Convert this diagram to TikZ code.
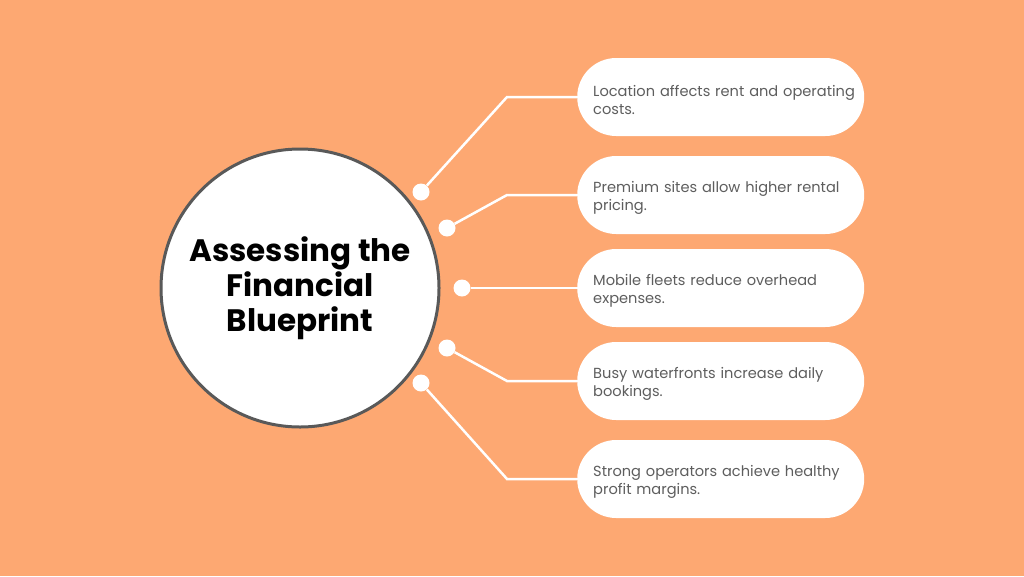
\documentclass[tikz,border=0pt]{standalone}
\usepackage{fontspec}
\setmainfont{Poppins}
\usetikzlibrary{positioning}
\definecolor{bgorange}{HTML}{FDA872}
\definecolor{textgray}{HTML}{5E5E5E}
\definecolor{rimgray}{HTML}{595959}
\newcommand{\pillfont}{\fontsize{14.6}{18.5}\selectfont\hyphenpenalty=10000\relax}
\tikzset{
     pill/.style={rounded corners=39pt,fill=white,minimum height=78pt,text width=271pt,inner xsep=8pt,align=left,anchor=west,text=textgray,font=\pillfont,
       execute at begin node={\leftskip=8pt\relax},execute at end node={\par\vspace{-6pt}}},
     dot/.style={circle,fill=white,minimum size=17pt,inner sep=0pt},
     link/.style={white,line width=2.5pt}
     }

\begin{document}
\begin{tikzpicture}[x=1pt,y=-1pt]
            % Background
            \fill[bgorange] (0,0) rectangle (1024,576);
            % Place nodes
            \node[circle,draw=rimgray,line width=3pt,fill=white,minimum size=278pt,align=center,font=\bfseries\fontsize{31}{35}\selectfont] (hub) at (300,288) {Assessing the\\Financial\\Blueprint};
            \node[pill] (loc) at (577,97) {Location affects rent and operating costs.};
            \node[pill] (prem) at (577,195) {Premium sites allow higher rental pricing.};
            \node[pill] (mob) at (577,288) {Mobile fleets reduce overhead expenses.};
            \node[pill] (busy) at (577,381) {Busy waterfronts increase daily bookings.};
            \node[pill] (strong) at (577,479) {Strong operators achieve healthy profit margins.};
            \node[dot] (d1) at (421,192) {};
            \node[dot] (d2) at (447,228) {};
            \node[dot] (d3) at (462,288) {};
            \node[dot] (d4) at (447,348) {};
            \node[dot] (d5) at (421,383) {};
            \coordinate (k1) at (507,97);
            \coordinate (k2) at (507,195);
            \coordinate (k4) at (507,381);
            \coordinate (k5) at (507,479);
            % Draw edges
            \draw[link] (d1) -- (k1) -- (loc.west);
            \draw[link] (d2) -- (k2) -- (prem.west);
            \draw[link] (d3) -- (mob.west);
            \draw[link] (d4) -- (k4) -- (busy.west);
            \draw[link] (d5) -- (k5) -- (strong.west);
        \end{tikzpicture}
\end{document}
